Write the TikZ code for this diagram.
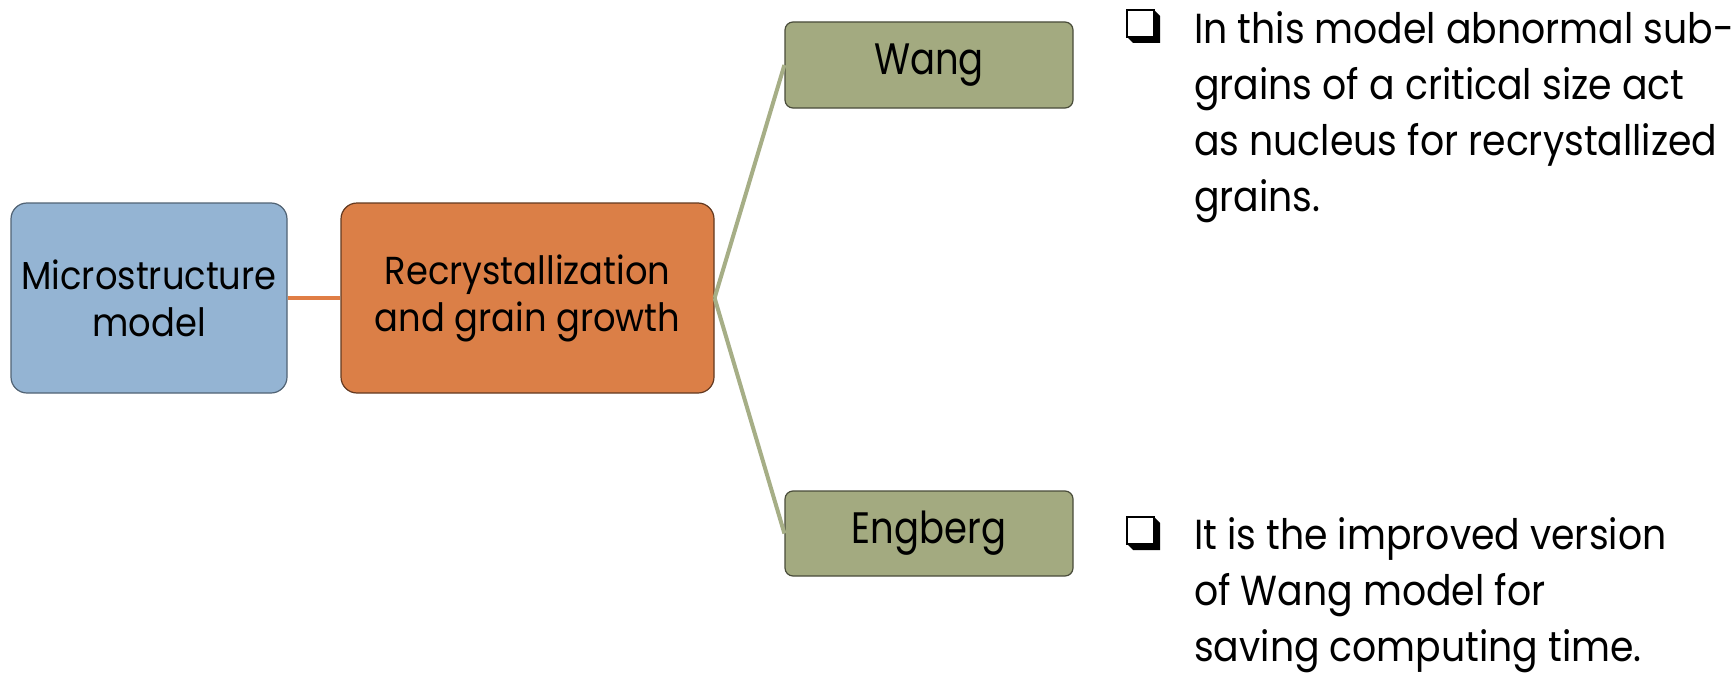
\documentclass[tikz,border=0pt]{standalone}
\usepackage{fontspec}
\setmainfont{Poppins}[FakeStretch=0.84]
\newfontfamily\topicfont{Poppins}[FakeStretch=0.905]
\newfontfamily\notefont{Poppins}[FakeStretch=0.90]
\definecolor{boxblue}{HTML}{94B4D3}
\definecolor{boxorange}{HTML}{DB7F47}
\definecolor{boxolive}{HTML}{A3AA80}
\definecolor{linkolive}{HTML}{A6AE86}
\definecolor{linkorange}{HTML}{E07E45}
\tikzset{
  topic/.style={rounded corners=16pt, line width=1.2pt, align=center,
    inner sep=0pt, font=\topicfont\fontsize{39}{47}\selectfont},
  leaf/.style={rounded corners=8pt, line width=1.2pt, align=center,
    inner sep=0pt, font=\fontsize{44}{47}\selectfont},
  note/.style={anchor=base west, align=left, inner sep=0pt,
    font=\notefont\fontsize{42}{56}\selectfont},
  branch/.style={draw=linkolive, line width=4pt},
}
% shadowed square bullet, top-left corner at (#1,#2)
\newcommand{\checkbox}[2]{%
  \fill[black] (#1+28,#2+1) -- (#1+34,#2+7) -- (#1+34,#2+34) -- (#1+7,#2+34) -- (#1+1,#2+28) -- cycle;
  \draw[black, fill=white, line width=2.4pt] (#1+1.2,#2+1.2) rectangle (#1+28,#2+28);
}
\begin{document}
\begin{tikzpicture}[x=1pt, y=-1pt]
  \useasboundingbox[fill=white] (0,0) rectangle (1734,677);

  \node[topic, fill=boxblue, draw=boxblue!55!black,
        minimum width=276pt, minimum height=190pt] (micro) at (149,298)
        {Microstructure\\model};
  \node[topic, fill=boxorange, draw=boxorange!45!black,
        minimum width=373pt, minimum height=190pt] (recr) at (527.5,298)
        {Recrystallization\\and grain growth};
  \node[leaf, fill=boxolive, draw=boxolive!45!black,
        minimum width=288pt, minimum height=86pt] (wang) at (929,65) {Wang};
  \node[leaf, fill=boxolive, draw=boxolive!45!black,
        minimum width=288pt, minimum height=85pt] (engberg) at (929,533.5) {Engberg};

  \draw[draw=linkorange, line width=4.5pt] (micro.east) -- (recr.west);
  \draw[branch] (recr.east) -- (wang.west);
  \draw[branch] (recr.east) -- (engberg.west);

  % the base anchor sits on the last line of each note
  \checkbox{1126}{9}
  \node[note] (n1) at (1194,211)
    {In this model abnormal sub-\\grains of a critical size act\\as nucleus for recrystallized\\grains.};
  \checkbox{1126}{516}
  \node[note] (n2) at (1194,661)
    {It is the improved version\\of Wang model for\\saving computing time.};
\end{tikzpicture}
\end{document}
